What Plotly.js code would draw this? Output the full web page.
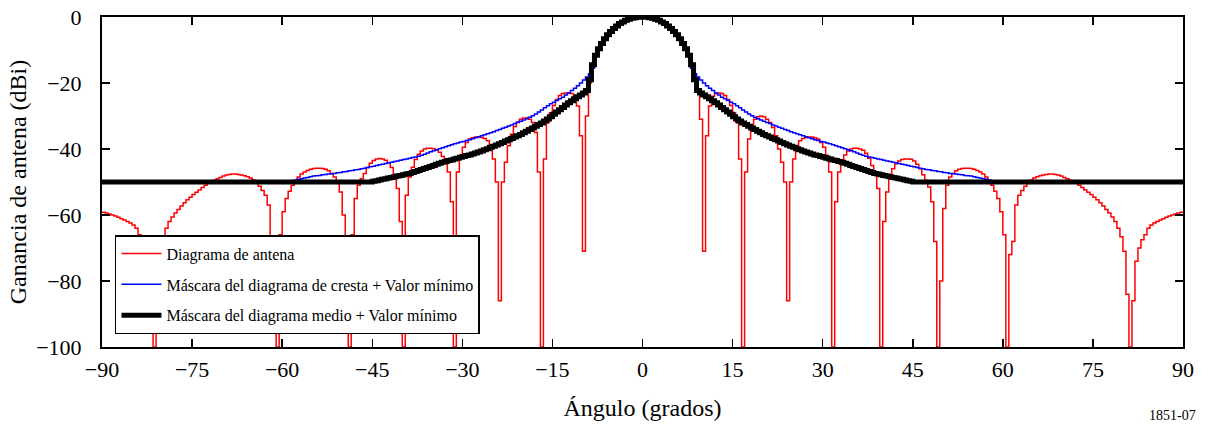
<!DOCTYPE html>
<html>
<head>
<meta charset="utf-8">
<script src="https://cdn.plot.ly/plotly-3.0.1.min.js"></script>
<style>
  html, body { margin: 0; padding: 0; background: #ffffff; }
  #chart { width: 1208px; height: 426px; }
</style>
</head>
<body>
<div id="chart"></div>
<script>
// Angle grid (degrees)
const angles = [
-90,-89.5,-89,-88.5,-88,-87.5,-87,-86.5,-86,-85.5,
-85,-84.5,-84,-83.5,-83,-82.5,-82,-81.5,-81,-80.5,
-80,-79.5,-79,-78.5,-78,-77.5,-77,-76.5,-76,-75.5,
-75,-74.5,-74,-73.5,-73,-72.5,-72,-71.5,-71,-70.5,
-70,-69.5,-69,-68.5,-68,-67.5,-67,-66.5,-66,-65.5,
-65,-64.5,-64,-63.5,-63,-62.5,-62,-61.5,-61,-60.5,
-60,-59.5,-59,-58.5,-58,-57.5,-57,-56.5,-56,-55.5,
-55,-54.5,-54,-53.5,-53,-52.5,-52,-51.5,-51,-50.5,
-50,-49.5,-49,-48.5,-48,-47.5,-47,-46.5,-46,-45.5,
-45,-44.5,-44,-43.5,-43,-42.5,-42,-41.5,-41,-40.5,
-40,-39.5,-39,-38.5,-38,-37.5,-37,-36.5,-36,-35.5,
-35,-34.5,-34,-33.5,-33,-32.5,-32,-31.5,-31,-30.5,
-30,-29.5,-29,-28.5,-28,-27.5,-27,-26.5,-26,-25.5,
-25,-24.5,-24,-23.5,-23,-22.5,-22,-21.5,-21,-20.5,
-20,-19.5,-19,-18.5,-18,-17.5,-17,-16.5,-16,-15.5,
-15,-14.5,-14,-13.5,-13,-12.5,-12,-11.5,-11,-10.5,
-10,-9.5,-9,-8.5,-8,-7.5,-7,-6.5,-6,-5.5,
-5,-4.5,-4,-3.5,-3,-2.5,-2,-1.5,-1,-0.5,
0,0.5,1,1.5,2,2.5,3,3.5,4,4.5,
5,5.5,6,6.5,7,7.5,8,8.5,9,9.5,
10,10.5,11,11.5,12,12.5,13,13.5,14,14.5,
15,15.5,16,16.5,17,17.5,18,18.5,19,19.5,
20,20.5,21,21.5,22,22.5,23,23.5,24,24.5,
25,25.5,26,26.5,27,27.5,28,28.5,29,29.5,
30,30.5,31,31.5,32,32.5,33,33.5,34,34.5,
35,35.5,36,36.5,37,37.5,38,38.5,39,39.5,
40,40.5,41,41.5,42,42.5,43,43.5,44,44.5,
45,45.5,46,46.5,47,47.5,48,48.5,49,49.5,
50,50.5,51,51.5,52,52.5,53,53.5,54,54.5,
55,55.5,56,56.5,57,57.5,58,58.5,59,59.5,
60,60.5,61,61.5,62,62.5,63,63.5,64,64.5,
65,65.5,66,66.5,67,67.5,68,68.5,69,69.5,
70,70.5,71,71.5,72,72.5,73,73.5,74,74.5,
75,75.5,76,76.5,77,77.5,78,78.5,79,79.5,
80,80.5,81,81.5,82,82.5,83,83.5,84,84.5,
85,85.5,86,86.5,87,87.5,88,88.5,89,89.5,
90
];

// Diagrama de antena (dBi)
const antennaPattern = [
-59.2,-59.4,-59.7,-60,-60.3,-60.7,-61.1,-61.5,-62,-62.4,
-63,-64,-66,-67.5,-70,-74,-86,-100,-84,-71,
-66.6,-64,-62,-60.6,-59.4,-58.3,-57.3,-56.3,-55.4,-54.6,
-53.8,-53.1,-52.4,-51.7,-51,-50.4,-50,-49.5,-49,-48.6,
-48.2,-47.9,-47.7,-47.6,-47.6,-47.7,-47.9,-48.1,-48.4,-48.8,
-49.4,-50.2,-51.3,-52.6,-54,-57,-68,-72,-100,-66,
-59,-55,-52.8,-51,-49.6,-48.5,-47.6,-47,-46.5,-46.1,
-45.9,-45.8,-45.8,-45.9,-46.1,-46.6,-47.4,-48.5,-50,-53,
-60,-80,-100,-66,-55,-51,-49,-47.4,-45.6,-44.3,
-43.5,-43,-42.9,-43,-43.4,-44.2,-45.6,-48,-52,-62,
-100,-54,-48.5,-45.5,-43.2,-41.6,-40.6,-40,-39.8,-39.8,
-39.9,-40.3,-41,-42.3,-44,-47,-56,-100,-47,-42,
-39.5,-38,-37,-36.6,-36.4,-36.4,-36.5,-36.8,-37.5,-39.5,
-43,-50,-86,-50,-44,-39,-35.5,-33.2,-31.8,-31,
-30.6,-30.6,-31,-32,-35,-47,-100,-43,-32,-29,
-26.8,-25,-23.8,-23.2,-23,-23,-23.2,-24,-27,-36,
-71,-30,-20,-15,-11.8,-9.7,-8.1,-6.7,-5.5,-4.5,
-3.6,-2.8,-2.1,-1.5,-1.0,-0.7,-0.4,-0.2,-0.1,0,
0,-0.1,-0.2,-0.4,-0.7,-1.0,-1.5,-2.0,-2.7,-3.5,
-4.4,-5.4,-6.6,-8.0,-9.6,-11.6,-14.2,-18.5,-22.6,-31,
-71,-36,-27,-24,-23.2,-23,-23.2,-23.8,-25,-26.8,
-29,-32,-43,-100,-47,-37,-33,-31,-30.2,-30,
-30.2,-31,-32,-33.5,-36,-40,-44,-50,-86,-50,
-43,-39.5,-37.5,-36.8,-36.5,-36.4,-36.4,-36.6,-37,-38,
-39.5,-42,-47,-100,-56,-47,-44,-41.8,-40.6,-40,
-39.8,-39.8,-40,-40.4,-41.3,-42.8,-45,-47.5,-52,-100,
-62,-53,-48.5,-46,-44.5,-43.6,-43.2,-43,-43,-43.1,
-43.6,-44.6,-46,-47.8,-49.5,-51.5,-56,-68,-100,-80,
-58,-51,-48.5,-47.4,-46.6,-46.1,-45.9,-45.8,-45.8,-45.9,
-46.1,-46.5,-47,-47.6,-48.5,-49.6,-51,-52.8,-55,-59,
-66,-100,-72,-68,-57,-54,-52.6,-51.3,-50.2,-49.4,
-48.8,-48.4,-48.1,-47.9,-47.7,-47.6,-47.6,-47.7,-47.9,-48.2,
-48.6,-49,-49.5,-50,-50.4,-51,-51.7,-52.4,-53.1,-53.8,
-54.6,-55.4,-56.3,-57.3,-58.3,-59.4,-60.6,-62,-64,-66.6,
-71,-84,-100,-86,-74,-70,-67.5,-66,-64,-63,
-62.4,-62,-61.5,-61.1,-60.7,-60.3,-60,-59.7,-59.4,-59.2,
-59
];

// Máscara del diagrama de cresta + Valor mínimo (dBi)
const peakMask = [
-50,-50,-50,-50,-50,-50,-50,-50,-50,-50,
-50,-50,-50,-50,-50,-50,-50,-50,-50,-50,
-50,-50,-50,-50,-50,-50,-50,-50,-50,-50,
-50,-50,-50,-50,-50,-50,-50,-50,-50,-50,
-50,-50,-50,-50,-50,-50,-50,-50,-50,-50,
-50,-50,-50,-50,-50,-50,-50,-50,-50,-50,
-50,-50,-50,-49.7,-49.4,-49.2,-49,-48.8,-48.6,-48.4,
-48.2,-48.1,-48,-47.8,-47.7,-47.6,-47.5,-47.4,-47.2,-47.1,
-46.9,-46.8,-46.6,-46.5,-46.3,-46.2,-46,-45.8,-45.6,-45.4,
-45.2,-45,-44.8,-44.6,-44.4,-44.2,-44,-43.8,-43.6,-43.4,
-43.2,-43,-42.8,-42.6,-42.4,-42.2,-41.9,-41.6,-41.2,-40.8,
-40.5,-40.2,-39.9,-39.6,-39.3,-39,-38.7,-38.4,-38.2,-37.9,
-37.7,-37.4,-37.2,-36.9,-36.6,-36.3,-36,-35.7,-35.4,-35.1,
-34.8,-34.4,-34.1,-33.7,-33.4,-33,-32.7,-32.3,-32,-31.6,
-31.2,-30.8,-30.4,-29.9,-29.4,-28.8,-28.2,-27.5,-26.9,-26.3,
-25.8,-25.3,-24.8,-24.3,-23.6,-23,-22.3,-21.6,-20.8,-20,
-19.1,-18.2,-17.2,-15.5,-11.6,-9.6,-8.0,-6.6,-5.4,-4.4,
-3.5,-2.7,-2.0,-1.5,-1.0,-0.7,-0.4,-0.2,-0.1,0,
0,-0.1,-0.2,-0.4,-0.7,-1.0,-1.5,-2.0,-2.7,-3.5,
-4.4,-5.4,-6.6,-8.0,-9.6,-11.6,-15.5,-17.2,-18.2,-19.1,
-20,-20.8,-21.6,-22.3,-23,-23.6,-24.3,-24.8,-25.3,-25.8,
-26.3,-26.9,-27.5,-28.2,-28.8,-29.4,-29.9,-30.4,-30.8,-31.2,
-31.6,-32,-32.3,-32.7,-33,-33.4,-33.7,-34.1,-34.4,-34.8,
-35.1,-35.4,-35.7,-36,-36.3,-36.6,-36.9,-37.2,-37.4,-37.7,
-37.9,-38.2,-38.4,-38.7,-39,-39.3,-39.6,-39.9,-40.2,-40.5,
-40.8,-41.2,-41.6,-41.9,-42.2,-42.4,-42.6,-42.8,-43,-43.2,
-43.4,-43.6,-43.8,-44,-44.2,-44.4,-44.6,-44.8,-45,-45.2,
-45.4,-45.6,-45.8,-46,-46.2,-46.3,-46.5,-46.6,-46.8,-46.9,
-47.1,-47.2,-47.4,-47.5,-47.6,-47.7,-47.8,-48,-48.1,-48.2,
-48.4,-48.6,-48.8,-49,-49.2,-49.4,-49.7,-50,-50,-50,
-50,-50,-50,-50,-50,-50,-50,-50,-50,-50,
-50,-50,-50,-50,-50,-50,-50,-50,-50,-50,
-50,-50,-50,-50,-50,-50,-50,-50,-50,-50,
-50,-50,-50,-50,-50,-50,-50,-50,-50,-50,
-50,-50,-50,-50,-50,-50,-50,-50,-50,-50,
-50,-50,-50,-50,-50,-50,-50,-50,-50,-50,
-50
];

// Máscara del diagrama medio + Valor mínimo (dBi)
const averageMask = [
-50,-50,-50,-50,-50,-50,-50,-50,-50,-50,
-50,-50,-50,-50,-50,-50,-50,-50,-50,-50,
-50,-50,-50,-50,-50,-50,-50,-50,-50,-50,
-50,-50,-50,-50,-50,-50,-50,-50,-50,-50,
-50,-50,-50,-50,-50,-50,-50,-50,-50,-50,
-50,-50,-50,-50,-50,-50,-50,-50,-50,-50,
-50,-50,-50,-50,-50,-50,-50,-50,-50,-50,
-50,-50,-50,-50,-50,-50,-50,-50,-50,-50,
-50,-50,-50,-50,-50,-50,-50,-50,-50,-50,
-49.8,-49.6,-49.4,-49.2,-49,-48.8,-48.6,-48.4,-48.2,-48,
-47.8,-47.6,-47.4,-47.1,-46.8,-46.5,-46.2,-45.9,-45.6,-45.3,
-45,-44.6,-44.3,-44,-43.8,-43.5,-43.3,-43,-42.8,-42.5,
-42.3,-42,-41.8,-41.5,-41.2,-40.9,-40.6,-40.2,-39.9,-39.5,
-39.2,-38.8,-38.4,-38,-37.6,-37.2,-36.8,-36.4,-36,-35.6,
-35.1,-34.6,-34.1,-33.6,-33.1,-32.6,-32.1,-31.5,-30.9,-30.2,
-29.5,-28.8,-28.1,-27.4,-26.7,-26,-25.4,-24.8,-24.2,-23.6,
-23,-22.3,-19,-14.5,-11.6,-9.6,-8.0,-6.6,-5.4,-4.4,
-3.5,-2.7,-2.0,-1.5,-1.0,-0.7,-0.4,-0.2,-0.1,0,
0,-0.1,-0.2,-0.4,-0.7,-1.0,-1.5,-2.0,-2.7,-3.5,
-4.4,-5.4,-6.6,-8.0,-9.6,-11.6,-14.5,-19,-22.3,-23,
-23.6,-24.2,-24.8,-25.4,-26,-26.7,-27.4,-28.1,-28.8,-29.5,
-30.2,-30.9,-31.5,-32.1,-32.6,-33.1,-33.6,-34.1,-34.6,-35.1,
-35.6,-36,-36.4,-36.8,-37.2,-37.6,-38,-38.4,-38.8,-39.2,
-39.5,-39.9,-40.2,-40.6,-40.9,-41.2,-41.5,-41.8,-42,-42.3,
-42.5,-42.8,-43,-43.3,-43.5,-43.8,-44,-44.3,-44.6,-45,
-45.3,-45.6,-45.9,-46.2,-46.5,-46.8,-47.1,-47.4,-47.6,-47.8,
-48,-48.2,-48.4,-48.6,-48.8,-49,-49.2,-49.4,-49.6,-49.8,
-50,-50,-50,-50,-50,-50,-50,-50,-50,-50,
-50,-50,-50,-50,-50,-50,-50,-50,-50,-50,
-50,-50,-50,-50,-50,-50,-50,-50,-50,-50,
-50,-50,-50,-50,-50,-50,-50,-50,-50,-50,
-50,-50,-50,-50,-50,-50,-50,-50,-50,-50,
-50,-50,-50,-50,-50,-50,-50,-50,-50,-50,
-50,-50,-50,-50,-50,-50,-50,-50,-50,-50,
-50,-50,-50,-50,-50,-50,-50,-50,-50,-50,
-50,-50,-50,-50,-50,-50,-50,-50,-50,-50,
-50
];

const seriesNames = [
  "Diagrama de antena",
  "Máscara del diagrama de cresta + Valor mínimo",
  "Máscara del diagrama medio + Valor mínimo"
];
const xTickVals = [-90, -75, -60, -45, -30, -15, 0, 15, 30, 45, 60, 75, 90];
const yTickVals = [-100, -80, -60, -40, -20, 0];
const xTitle = "Ángulo (grados)";
const yTitle = "Ganancia de antena (dBi)";
const figureCode = "1851-07";

const FONT = "Liberation Serif";

const traces = [
  { x: angles, y: antennaPattern, name: seriesNames[0], legendgroup: "a",
    type: "scatter", mode: "lines", line: { color: "#ff0000", width: 1.5, shape: "hv" } },
  { x: angles, y: peakMask, name: seriesNames[1], legendgroup: "b",
    type: "scatter", mode: "lines", line: { color: "#0000ff", width: 1.5, shape: "hv" } },
  { x: angles, y: averageMask, name: seriesNames[2], legendgroup: "c",
    type: "scatter", mode: "lines", line: { color: "#000000", width: 5, shape: "hv" } }
];

const axisCommon = {
  showgrid: false, zeroline: false, showline: true, linecolor: "#000", linewidth: 2,
  mirror: "ticks", ticks: "inside", ticklen: 8, tickwidth: 1.5, tickcolor: "#000",
  tickfont: { family: FONT, size: 22, color: "#000" }
};

const layout = {
  width: 1208, height: 426,
  margin: { l: 102, r: 25, t: 17, b: 79 },
  paper_bgcolor: "#fff", plot_bgcolor: "#fff",
  font: { family: FONT, color: "#000" },
  showlegend: true,
  legend: {
    x: 0.012, y: 0.339, xanchor: "left", yanchor: "top",
    bgcolor: "#fff", bordercolor: "#000", borderwidth: 1.5,
    font: { family: FONT, size: 16, color: "#000" },
    tracegroupgap: 7, itemwidth: 40
  },
  xaxis: Object.assign({}, axisCommon, {
    range: [-90, 90], tickmode: "array", tickvals: xTickVals,
    ticklabelstandoff: 2,
    title: { text: xTitle, font: { family: FONT, size: 24, color: "#000" }, standoff: 18 }
  }),
  yaxis: Object.assign({}, axisCommon, {
    range: [-100, 0], tickmode: "array", tickvals: yTickVals,
    ticklabelstandoff: 14,
    title: { text: yTitle, font: { family: FONT, size: 24, color: "#000" }, standoff: 3 }
  }),
  annotations: [{
    text: figureCode, xref: "paper", yref: "paper", x: 0.99, y: -0.236,
    xanchor: "center", yanchor: "bottom", showarrow: false,
    font: { family: FONT, size: 14, color: "#000" }
  }]
};

Plotly.newPlot("chart", traces, layout, { displayModeBar: false, staticPlot: true });
</script>
</body>
</html>
